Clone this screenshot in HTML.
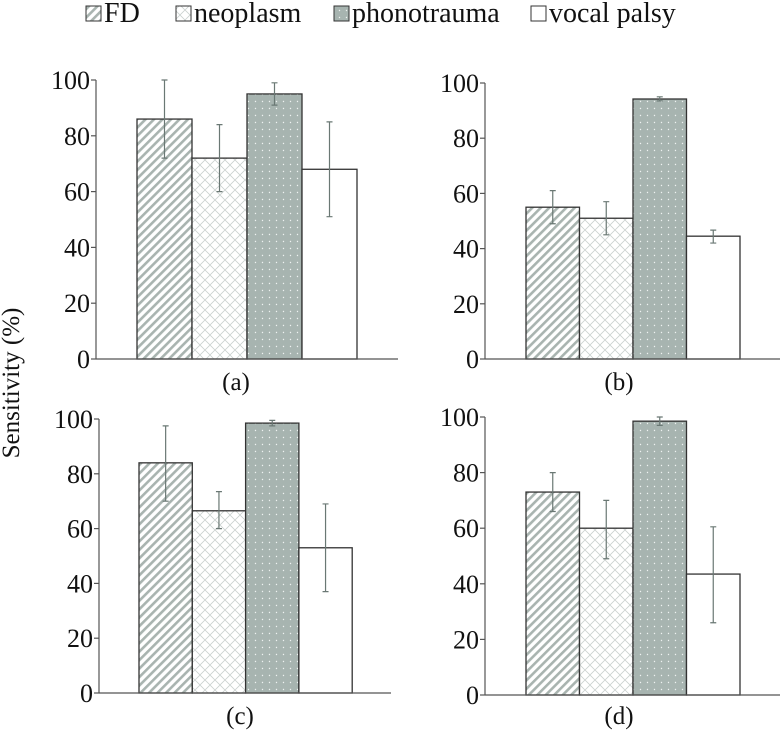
<!DOCTYPE html>
<html><head><meta charset="utf-8"><style>
body{margin:0;background:#fff;}
svg, svg text{font-family:"Liberation Serif","Times New Roman","DejaVu Serif",serif;}
svg{display:block;}
</style></head><body>
<svg id="c" width="780" height="730" xmlns="http://www.w3.org/2000/svg" font-family="Liberation Serif, serif">
<defs>
<pattern id="pFD" width="6" height="6" patternUnits="userSpaceOnUse" patternTransform="rotate(45)">
<rect width="6" height="6" fill="#fff"/><rect width="2.6" height="6" fill="#a9b4b0"/></pattern>
<pattern id="pNeo" width="10" height="10" patternUnits="userSpaceOnUse">
<rect width="10" height="10" fill="#fff"/><path d="M0 5 L5 0 L10 5 M0 5 L5 10 L10 5" stroke="#c9d0ce" stroke-width="0.8" fill="none"/></pattern>
<pattern id="pPho" width="7" height="7" patternUnits="userSpaceOnUse">
<rect width="7" height="7" fill="#a7b4b0"/><circle cx="3.5" cy="3.5" r="0.7" fill="#eef2f1"/></pattern>
</defs>
<g id="legend" font-size="28" fill="#111">
<rect x="86" y="6" width="15" height="15" fill="url(#pFD)" stroke="#333"/>
<text x="104" y="22">FD</text>
<rect x="176" y="6" width="15" height="15" fill="url(#pNeo)" stroke="#333"/>
<text x="194" y="22">neoplasm</text>
<rect x="334" y="6" width="15" height="15" fill="url(#pPho)" stroke="#333"/>
<text x="352" y="22">phonotrauma</text>
<rect x="531" y="6" width="15" height="15" fill="#fff" stroke="#333"/>
<text x="549" y="22">vocal palsy</text>
</g>
<text transform="translate(19,383) rotate(-90)" text-anchor="middle" font-size="25" fill="#111">Sensitivity (%)</text>
</svg>
<script>
const categories = ["FD","neoplasm","phonotrauma","vocal palsy"];
const panelLabels = ["(a)","(b)","(c)","(d)"];
const valuesA = [86,72,95,68];
const lowA = [72,60,91,51];
const highA = [100,84,99,85];
const valuesB = [55,51,94.2,44.5];
const lowB = [49,45,93.5,42];
const highB = [61,57,95,46.7];
const valuesC = [84,66.5,98.5,53];
const lowC = [70,60,97.5,37];
const highC = [97.5,73.5,99.5,69];
const valuesD = [73,60,98.5,43.5];
const lowD = [66,49,97,26];
const highD = [80,70,100,60.5];
const ticks = [0,20,40,60,80,100];

const fills = ["url(#pFD)","url(#pNeo)","url(#pPho)","#fff"];
const slugs = ["fd","neoplasm","phonotrauma","vocal-palsy"];
const panels = [
 {v:valuesA,lo:lowA,hi:highA,ax:96,y0:359,y1:80,x0:137,bw:55,xe:398,lx:236,ly:390},
 {v:valuesB,lo:lowB,hi:highB,ax:485,y0:359,y1:83,x0:526,bw:53.5,xe:780,lx:619,ly:390},
 {v:valuesC,lo:lowC,hi:highC,ax:99,y0:693,y1:419,x0:139,bw:53.3,xe:391,lx:240,ly:724},
 {v:valuesD,lo:lowD,hi:highD,ax:485,y0:695,y1:417,x0:526,bw:53.5,xe:780,lx:619,ly:724}
];
const NS="http://www.w3.org/2000/svg";
const svg=document.getElementById('c');
function mk(t,a,p){const e=document.createElementNS(NS,t);for(const k in a)e.setAttribute(k,a[k]);(p||svg).appendChild(e);return e;}
panels.forEach((P,pi)=>{
 const g=mk('g',{});
 
 
 const y=v=>P.y0-(v/100)*(P.y0-P.y1);
 const ya=mk('line',{x1:P.ax,x2:P.ax,y1:P.y0,y2:P.y1,stroke:'#555','stroke-width':1.2},g);
 
 
 ticks.forEach(t=>{
  const tl=mk('line',{x1:P.ax-5,x2:P.ax,y1:y(t),y2:y(t),stroke:'#555','stroke-width':1.2},g);
  
  
  const tx=mk('text',{x:P.ax-6,y:y(t)+9,'text-anchor':'end','font-size':26,fill:'#111'},g);
  tx.textContent=t;
  
  
 });
 P.v.forEach((v,i)=>{
  const x=P.x0+i*P.bw;
  const r=mk('rect',{x:x,y:y(v),width:P.bw,height:P.y0-y(v),fill:fills[i],stroke:'#333','stroke-width':1.3},g);
  
  
  const cx=x+P.bw/2;
  const e=mk('path',{d:`M${cx} ${y(P.lo[i])}V${y(P.hi[i])}M${cx-3} ${y(P.lo[i])}h6M${cx-3} ${y(P.hi[i])}h6`,stroke:'#6a7874','stroke-width':1.2,fill:'none'},g);
  
  
 });
 const xa=mk('line',{x1:P.ax,x2:P.xe,y1:P.y0,y2:P.y0,stroke:'#555','stroke-width':1.3},g);
 
 
 const lb=mk('text',{x:P.lx,y:P.ly,'text-anchor':'middle','font-size':25,fill:'#111'},g);
 lb.textContent=panelLabels[pi];
 
 
});
</script>
</body></html>
